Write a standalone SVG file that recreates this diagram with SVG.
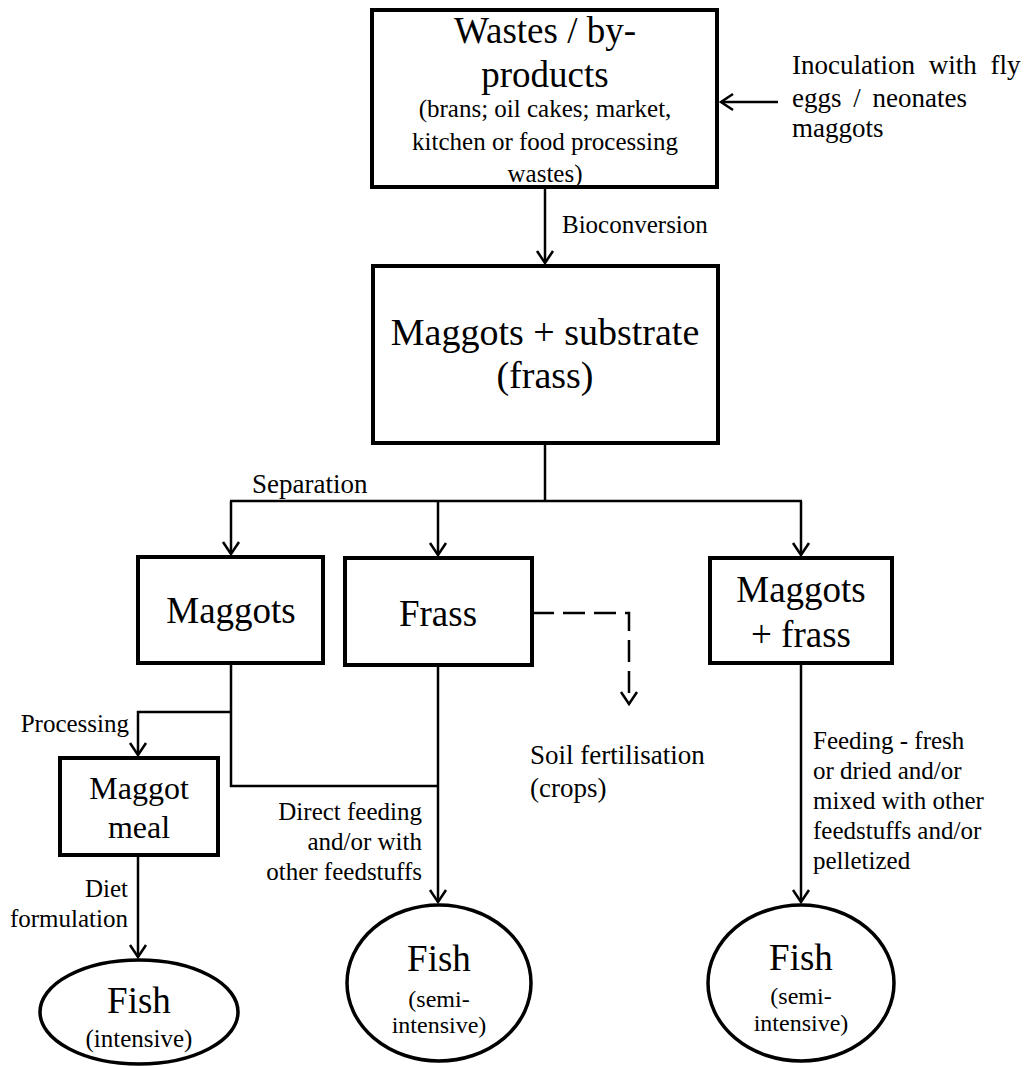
<svg xmlns="http://www.w3.org/2000/svg" width="1026" height="1066" viewBox="0 0 1026 1066">
<style>
text{font-family:"Liberation Serif","Times New Roman",serif;fill:#000}
.box{fill:#fff;stroke:#000;stroke-width:4}
.ell{fill:#fff;stroke:#000;stroke-width:3.5}
.ln{fill:none;stroke:#000;stroke-width:2.5}
.dash{stroke-dasharray:22 9}
.big{font-size:37px;text-anchor:middle}
.sm{font-size:25px}
.c{text-anchor:middle}
.e{text-anchor:end}
</style>
<defs>
<marker id="arr" viewBox="-14 -10 16 20" refX="0" refY="0" markerWidth="16" markerHeight="20" orient="auto" markerUnits="userSpaceOnUse" overflow="visible">
<path d="M-12,-8 L0,0 L-12,8" fill="none" stroke="#000" stroke-width="2.5"/>
</marker>
</defs>
<rect width="1026" height="1066" fill="#fff"/>
<g id="connectors">
<line class="ln" x1="778" y1="102" x2="721" y2="102" marker-end="url(#arr)"/>
<line class="ln" x1="545" y1="188" x2="545" y2="263" marker-end="url(#arr)"/>
<line class="ln" x1="545" y1="443" x2="545" y2="501"/>
<line class="ln" x1="230" y1="501" x2="802" y2="501"/>
<line class="ln" x1="231" y1="501" x2="231" y2="554" marker-end="url(#arr)"/>
<line class="ln" x1="438" y1="501" x2="438" y2="555" marker-end="url(#arr)"/>
<line class="ln" x1="801" y1="501" x2="801" y2="555" marker-end="url(#arr)"/>
<path class="ln" d="M231,663 V786 H438"/>
<path class="ln" d="M231,712 H138 V755" marker-end="url(#arr)"/>
<line class="ln" x1="438" y1="665" x2="438" y2="902" marker-end="url(#arr)"/>
<path class="ln dash" d="M532,613 H629 V704" marker-end="url(#arr)"/>
<line class="ln" x1="138" y1="855" x2="138" y2="957" marker-end="url(#arr)"/>
<line class="ln" x1="801" y1="663" x2="801" y2="902" marker-end="url(#arr)"/>
</g>
<g id="label-inoculation">
<text x="792" y="74" font-size="27" word-spacing="7">Inoculation with fly</text>
<text x="792" y="107" font-size="27" word-spacing="5">eggs / neonates</text>
<text x="792" y="137" font-size="27">maggots</text>
</g>
<g id="label-bioconversion"><text x="562" y="233" class="sm">Bioconversion</text></g>
<g id="label-separation"><text x="252" y="493" font-size="27">Separation</text></g>
<g id="label-processing"><text x="129" y="732" class="sm e">Processing</text></g>
<g id="label-diet">
<text x="128" y="897" class="sm e">Diet</text>
<text x="128" y="927" class="sm e">formulation</text>
</g>
<g id="label-direct">
<text x="422" y="820" class="sm e">Direct feeding</text>
<text x="422" y="850" class="sm e">and/or with</text>
<text x="422" y="880" class="sm e">other feedstuffs</text>
</g>
<g id="label-feeding">
<text x="813" y="749" class="sm">Feeding - fresh</text>
<text x="813" y="779" class="sm">or dried and/or</text>
<text x="813" y="809" class="sm">mixed with other</text>
<text x="813" y="839" class="sm">feedstuffs and/or</text>
<text x="813" y="869" class="sm">pelletized</text>
</g>
<g id="node-wastes">
<rect class="box" x="372" y="10" width="345" height="177"/>
<text x="545" y="43" class="big">Wastes / by-</text>
<text x="545" y="87" class="big">products</text>
<text x="545" y="117" class="sm c">(brans; oil cakes; market,</text>
<text x="545" y="150" class="sm c">kitchen or food processing</text>
<text x="545" y="182" class="sm c">wastes)</text>
</g>
<g id="node-substrate">
<rect class="box" x="373" y="266" width="345" height="177"/>
<text x="545" y="345" class="c" font-size="38">Maggots + substrate</text>
<text x="545" y="388" class="c" font-size="38">(frass)</text>
</g>
<g id="node-maggots">
<rect class="box" x="138" y="557" width="185" height="106"/>
<text x="231" y="623" class="big">Maggots</text>
</g>
<g id="node-frass">
<rect class="box" x="345" y="558" width="187" height="107"/>
<text x="438" y="626" class="big">Frass</text>
</g>
<g id="node-maggots-frass">
<rect class="box" x="710" y="558" width="182" height="105"/>
<text x="801" y="602" class="big">Maggots</text>
<text x="801" y="647" class="big">+ frass</text>
</g>
<g id="node-soil">
<text x="530" y="764" font-size="27">Soil fertilisation</text>
<text x="530" y="797" font-size="27">(crops)</text>
</g>
<g id="node-maggot-meal">
<rect class="box" x="60" y="758" width="158" height="97"/>
<text x="139" y="799" class="c" font-size="32">Maggot</text>
<text x="139" y="838" class="c" font-size="32">meal</text>
</g>
<g id="node-fish-intensive">
<ellipse class="ell" cx="139" cy="1012" rx="99" ry="52"/>
<text x="139" y="1013" class="big">Fish</text>
<text x="139" y="1047" class="sm c">(intensive)</text>
</g>
<g id="node-fish-semi-1">
<ellipse class="ell" cx="439" cy="983" rx="92" ry="78"/>
<text x="439" y="971" class="big">Fish</text>
<text x="439" y="1007" class="c" font-size="24">(semi-</text>
<text x="439" y="1033" class="c" font-size="24">intensive)</text>
</g>
<g id="node-fish-semi-2">
<ellipse class="ell" cx="801" cy="983" rx="93" ry="78"/>
<text x="801" y="970" class="big">Fish</text>
<text x="801" y="1004" class="c" font-size="24">(semi-</text>
<text x="801" y="1031" class="c" font-size="24">intensive)</text>
</g>
</svg>
